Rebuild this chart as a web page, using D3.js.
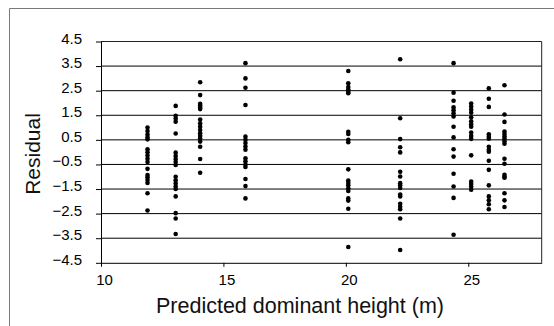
<!DOCTYPE html>
<html>
<head>
<meta charset="utf-8">
<script src="https://cdn.jsdelivr.net/npm/d3@7"></script>
<style>
  html, body { margin: 0; padding: 0; background: #fff; }
  svg { display: block; font-family: "Liberation Sans", Arial, sans-serif; }
</style>
</head>
<body>
<div id="chart"></div>
<script>
// predicted dominant height of each group (m)
const heights = [11.9, 13.05, 14.05, 15.9, 20.1, 22.22, 24.4, 25.12, 25.84, 26.48];

// residuals, one array per group
const res1 = [1.0, 0.86, 0.72, 0.6, 0.52, 0.12, 0.0, -0.14, -0.27, -0.4, -0.68, -0.93, -1.02, -1.13, -1.25, -1.67, -2.37];
const res2 = [1.88, 1.48, 1.37, 1.24, 0.76, -0.02, -0.16, -0.28, -0.4, -0.52, -1.0, -1.14, -1.27, -1.4, -1.5, -1.8, -2.48, -2.7, -3.33];
const res3 = [2.84, 2.32, 1.97, 1.9, 1.82, 1.75, 1.33, 1.17, 1.03, 0.9, 0.77, 0.66, 0.56, 0.43, 0.22, -0.28, -0.84];
const res4 = [3.62, 3.0, 2.62, 1.92, 0.63, 0.5, 0.37, 0.23, 0.1, -0.25, -0.37, -0.5, -0.6, -1.09, -1.38, -1.88];
const res5 = [3.3, 2.8, 2.65, 2.55, 2.45, 2.4, 0.83, 0.74, 0.5, 0.4, -0.7, -1.15, -1.25, -1.35, -1.47, -1.58, -1.88, -1.97, -2.3, -3.86];
const res6 = [3.78, 1.38, 0.53, 0.2, -0.01, -0.8, -0.99, -1.26, -1.36, -1.46, -1.72, -1.8, -2.1, -2.22, -2.32, -2.7, -3.98];
const res7 = [3.62, 2.42, 2.09, 1.82, 1.7, 1.58, 1.45, 1.03, 0.6, 0.12, -0.18, -0.88, -1.4, -1.86, -3.36];
const res8 = [1.98, 1.85, 1.72, 1.6, 1.42, 1.25, 1.12, 1.03, 0.8, 0.66, 0.54, -0.13, -1.2, -1.3, -1.4, -1.53];
const res9 = [2.6, 2.17, 1.84, 0.73, 0.63, 0.55, 0.22, 0.1, 0.02, -0.35, -0.72, -1.35, -1.8, -1.96, -2.12, -2.32];
const res10 = [2.72, 1.53, 1.23, 0.84, 0.74, 0.64, 0.55, 0.44, 0.34, -0.27, -0.47, -0.92, -1.0, -1.04, -1.67, -1.96, -2.23];

const yTicks = [-4.5, -3.5, -2.5, -1.5, -0.5, 0.5, 1.5, 2.5, 3.5, 4.5];
const xTicks = [10, 15, 20, 25];

const groups = [res1, res2, res3, res4, res5, res6, res7, res8, res9, res10];
const points = groups.flatMap((rs, i) => rs.map(r => ({h: heights[i], r})));

const width = 554, height = 326;
const margin = {top: 41.5, right: 12.3, bottom: 63.2, left: 101};

const svg = d3.select('#chart').append('svg')
  .attr('width', width)
  .attr('height', height);

// outer frame (only left and top edges show in the picture)
svg.append('path')
  .attr('d', `M9.5,${height}V8.5H${width}`)
  .attr('fill', 'none')
  .attr('stroke', '#7a7a7a')
  .attr('stroke-width', 1);

const x = d3.scaleLinear([10, 28], [margin.left, width - margin.right]);
const y = d3.scaleLinear([-4.5, 4.5], [height - margin.bottom, margin.top]);

// horizontal grid lines
svg.append('g')
  .selectAll('line')
  .data(yTicks.slice(1, -1))
  .join('line')
    .attr('x1', x(10))
    .attr('x2', x(28))
    .attr('y1', d => y(d))
    .attr('y2', d => y(d))
    .attr('stroke', '#000')
    .attr('stroke-width', 1);

// plot box top and right
svg.append('path')
  .attr('d', `M${x(10)},${y(4.5)}H${x(28)}V${y(-4.5)}`)
  .attr('fill', 'none')
  .attr('stroke', '#222')
  .attr('stroke-width', 1);

const yAxis = svg.append('g')
  .attr('transform', `translate(${x(10)},0)`)
  .call(d3.axisLeft(y).tickValues(yTicks).tickSize(5).tickSizeOuter(0)
    .tickFormat(d3.format('.1f')));

const xAxis = svg.append('g')
  .attr('transform', `translate(0,${y(-4.5)})`)
  .call(d3.axisBottom(x).tickValues(xTicks).tickSize(4).tickSizeOuter(0));

[yAxis, xAxis].forEach(g => {
  g.select('.domain').attr('stroke', '#000');
  g.selectAll('.tick line').attr('stroke', '#000');
  g.selectAll('.tick text')
    .attr('fill', '#000')
    .attr('font-size', '15px')
    .attr('font-family', '"Liberation Sans", Arial, sans-serif');
});

yAxis.selectAll('.tick text')
  .attr('x', -19)
  .attr('dy', '0.1em');

xAxis.selectAll('.tick text')
  .attr('x', 3)
  .attr('y', 11)
  .attr('dy', '0.75em');

// points
svg.append('g')
  .selectAll('circle')
  .data(points)
  .join('circle')
    .attr('cx', d => x(d.h))
    .attr('cy', d => y(d.r))
    .attr('r', 2.3)
    .attr('fill', '#000');

// axis titles
svg.append('text')
  .attr('x', 300)
  .attr('y', 313)
  .attr('text-anchor', 'middle')
  .attr('font-size', '21.5px')
  .attr('fill', '#111')
  .text('Predicted dominant height (m)');

svg.append('text')
  .attr('transform', 'translate(40,154) rotate(-90)')
  .attr('text-anchor', 'middle')
  .attr('font-size', '21px')
  .attr('fill', '#111')
  .text('Residual');
</script>
</body>
</html>
